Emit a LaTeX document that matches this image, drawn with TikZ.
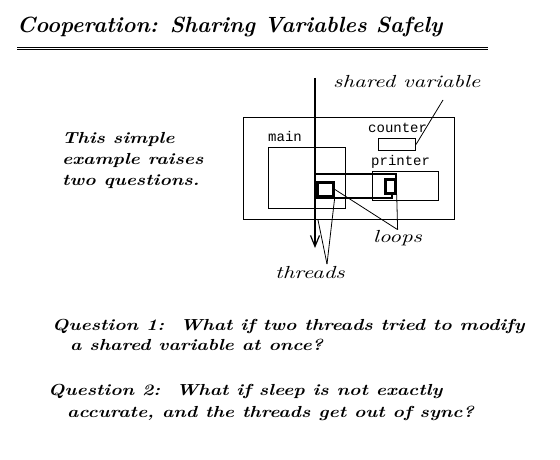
\documentclass[tikz,border=0pt]{standalone}
\usepackage{fontspec}
\usetikzlibrary{arrows.meta}
\newfontfamily\titlefont{lmroman10-bolditalic.otf}
\newfontfamily\bodyfont{lmroman10-bolditalic.otf}[FakeStretch=1.2]
\newfontfamily\handfont{lmroman10-italic.otf}[FakeStretch=1.3]
\newfontfamily\codefont{Liberation Mono}
\begin{document}
\begin{tikzpicture}[x=1pt,y=-1pt,
		body/.style={anchor=base west,inner sep=0pt,font=\bodyfont\fontsize{16}{18}\selectfont},
		note/.style={anchor=base west,inner sep=0pt,font=\handfont\fontsize{17.5}{20}\selectfont},
		code/.style={anchor=base west,inner sep=0pt,font=\codefont\fontsize{14}{16}\selectfont},
		box/.style={draw,line width=1pt,inner sep=0pt,anchor=north west},
		loopbox/.style={draw,line width=2.7pt,inner sep=0pt,anchor=north west},
		thread/.style={line width=2.7pt},
		pointer/.style={line width=0.8pt}]
		\useasboundingbox (0,0) rectangle (560,460);
		\node[anchor=base west,inner sep=0pt,font=\titlefont\fontsize{22}{26}\selectfont] (title) at (17,33) {Cooperation: Sharing Variables Safely};
		\draw[double,double distance=1.2pt,line width=0.8pt] (17,48.5) -- (488,48.5);
		% left remark
		\node[body] (rem1) at (62,143) {This simple};
		\node[body] (rem2) at (62,164) {example raises};
		\node[body] (rem3) at (62,185) {two questions.};
		% program boxes
		\node[box,minimum width=211pt,minimum height=102pt] (outer) at (243,117) {};
		\node[box,minimum width=77pt,minimum height=61pt] (main) at (268,147) {};
		\node[box,minimum width=37pt,minimum height=12pt] (counter) at (378,138) {};
		\node[box,minimum width=66pt,minimum height=29pt] (printer) at (372,171) {};
		\node[code] (mainlab) at (268,142) {main};
		\node[code] (counterlab) at (368,132) {counter};
		\node[code] (printerlab) at (371,165) {printer};
		% threads
		\draw[thread,-{Straight Barb[length=11pt,width=9pt,line width=1.2pt]}] (315,78) -- (315,248);
		\draw[thread] (315,174) -- (396,174) -- (396,192);
		\draw[thread] (392,192) -- (392,198) -- (315,198);
		\node[loopbox,minimum width=16pt,minimum height=14pt] (leftloop) at (316,181) {};
		\node[loopbox,minimum width=10pt,minimum height=14pt] (rightloop) at (384,178) {};
		% labels
		\node[note] (shared) at (333,88) {shared variable};
		\node[note] (loops) at (373,242) {loops};
		\node[note] (threads) at (275,278) {threads};
		\coordinate (sv) at (443,100);
		\coordinate (th) at (327,264);
		\coordinate (exit) at (318,220);
		\draw[pointer] (sv) -- (counter.east);
		\draw[pointer] (loops.north) -- (leftloop.east);
		\draw[pointer] (loops.north) -- (rightloop.south east);
		\draw[pointer] (th) -- (exit);
		\draw[pointer] (th) -- (leftloop.south east);
		% questions
		\node[body] (q1a) at (52,330) {Question 1:\ \ What if two threads tried to modify};
		\node[body] (q1b) at (70,350) {a shared variable at once?};
		\node[body] (q2a) at (48,395) {Question 2:\ \ What if sleep is not exactly};
		\node[body] (q2b) at (67,417) {accurate, and the threads get out of sync?};
	\end{tikzpicture}
\end{document}
